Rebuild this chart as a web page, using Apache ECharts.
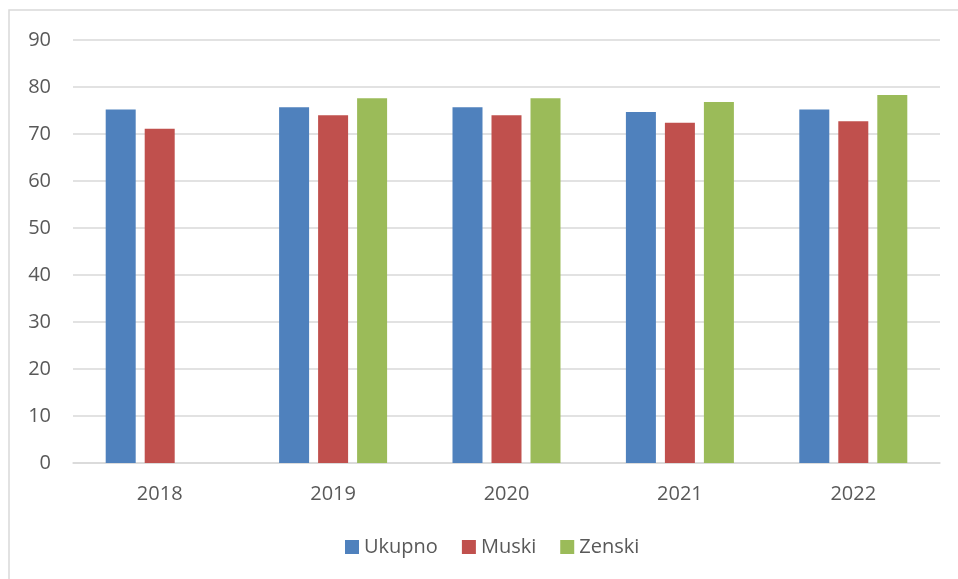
<!DOCTYPE html>
<html>
<head>
<meta charset="utf-8">
<script src="https://cdn.jsdelivr.net/npm/echarts@6/dist/echarts.min.js"></script>
<style>
  html, body { margin: 0; padding: 0; background: #fff; }
  #chart { width: 958px; height: 579px; }
</style>
</head>
<body>
<div id="chart"></div>
<script>
// 数据
const years = ['2018', '2019', '2020', '2021', '2022']
const ukupno = [75.2, 75.7, 75.7, 74.7, 75.2]
const muski = [71.1, 74.0, 74.0, 72.4, 72.7]
const zenski = [null, 77.6, 77.6, 76.8, 78.3]

const labelColor = '#595959'
const lineColor = '#D9D9D9'
const fontFamily = '"Open Sans", "Noto Sans", sans-serif'

const chart = echarts.init(document.getElementById('chart'))

const makeBar = (name, color, data) => ({
  name: name,
  type: 'bar',
  data: data,
  barWidth: 30,
  barGap: '30%',
  itemStyle: { color: color },
  emphasis: { disabled: true }
})

const options = {
  animation: false,
  textStyle: { fontFamily: fontFamily },
  graphic: [
    {
      type: 'rect',
      shape: { x: 9, y: 10, width: 1000, height: 600 },
      style: { fill: 'none', stroke: lineColor, lineWidth: 1.5 },
      silent: true
    }
  ],
  grid: {
    left: 73,
    right: 18,
    top: 40,
    bottom: 116
  },
  xAxis: {
    type: 'category',
    data: years,
    axisLine: { show: true, lineStyle: { color: lineColor, width: 1.5 } },
    axisTick: { show: false },
    axisLabel: { color: labelColor, fontSize: 20, margin: 21 }
  },
  yAxis: {
    type: 'value',
    min: 0,
    max: 90,
    interval: 10,
    axisLine: { show: false },
    axisTick: { show: false },
    axisLabel: { color: labelColor, fontSize: 20, margin: 22 },
    splitLine: { show: true, lineStyle: { color: lineColor, width: 1.5 } }
  },
  legend: {
    bottom: 17,
    left: 340,
    icon: 'rect',
    itemWidth: 14,
    itemHeight: 14,
    itemGap: 24,
    textStyle: { color: labelColor, fontSize: 20 },
    data: ['Ukupno', 'Muski', 'Zenski']
  },
  series: [
    makeBar('Ukupno', '#4F81BD', ukupno),
    makeBar('Muski', '#C0504D', muski),
    makeBar('Zenski', '#9BBB59', zenski)
  ]
}

chart.setOption(options)
</script>
</body>
</html>
